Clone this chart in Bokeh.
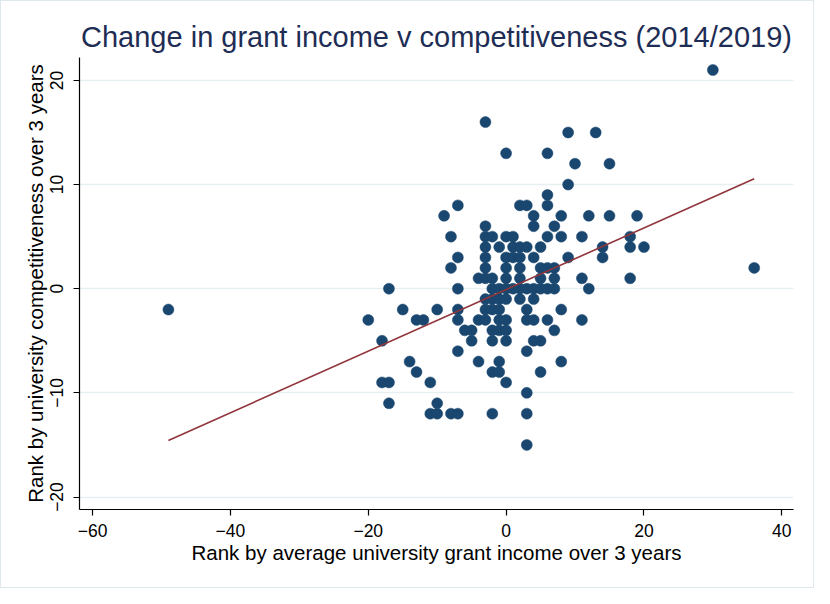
import numpy as np
from bokeh.plotting import figure
from bokeh.models import Range1d, FixedTicker, ColumnDataSource
from bokeh.embed import file_html
from bokeh.resources import INLINE

# ---- data (rank changes) ----
grant_rank = [
    30,
    -3,
    9, 13,
    0, 6,
    10, 15,
    9,
    6,
    -7, 2, 3, 6,
    -9, 4, 8, 12, 15, 19,
    -3, 4, 7,
    -8, -3, -2, 0, 1, 6, 8, 11, 18,
    -3, -1, 1, 2, 3, 5, 14, 18, 20,
    -7, -3, 0, 1, 2, 4, 9, 14,
    -8, -3, 0, 2, 5, 6, 7, 36,
    -4, -3, -2, 0, 2, 5, 7, 11, 18,
    -17, -7, -2, -1, 0, 1, 2, 3, 4, 5, 6, 7, 12,
    -3, -2, -1, 0, 2, 4,
    -49, -15, -10, -7, -3, -2, -1, 3, 8,
    -20, -13, -12, -7, -4, -3, -1, 0, 3, 4, 6, 11,
    -6, -5, -2, -1, 0, 7,
    -18, -5, -2, 0, 4, 5,
    -7, 3,
    -14, -4, -1, 8,
    -13, -2, -1, 5,
    -18, -17, -11, 0,
    3,
    -17, -10,
    -11, -10, -8, -7, -2, 3,
    3,
]
competitiveness_rank = (
    [21] * 1 + [16] * 1 + [15] * 2 + [13] * 2 + [12] * 2 + [10] * 1 + [9] * 1
    + [8] * 4 + [7] * 6 + [6] * 3 + [5] * 9 + [4] * 9 + [3] * 8 + [2] * 8
    + [1] * 9 + [0] * 13 + [-1] * 6 + [-2] * 9 + [-3] * 12 + [-4] * 6
    + [-5] * 6 + [-6] * 2 + [-7] * 4 + [-8] * 4 + [-9] * 4 + [-10] * 1
    + [-11] * 2 + [-12] * 6 + [-15] * 1
)
x_ticks = [-60, -40, -20, 0, 20, 40]
y_ticks = [-20, -10, 0, 10, 20]

title_text = "Change in grant income v competitiveness (2014/2019)"
x_label = "Rank by average university grant income over 3 years"
y_label = "Rank by university competitiveness over 3 years"

FONT = "Liberation Sans"
NAVY = "#1a476f"
MAROON = "#90353b"

# linear fit (like Stata's lfit)
xs = np.array(grant_rank, dtype=float)
ys = np.array(competitiveness_rank, dtype=float)
slope, intercept = np.polyfit(xs, ys, 1)
fit_x = [xs.min(), xs.max()]
fit_y = [intercept + slope * v for v in fit_x]

p = figure(
    width=814, height=588,
    output_backend="svg", toolbar_location=None,
    x_range=Range1d(-61.9, 41.7), y_range=Range1d(-21.2, 22.2),
    min_border_left=78, min_border_right=22, min_border_top=56, min_border_bottom=80,
)
p.styles = {"border": "1px solid #dfe8ec"}
p.background_fill_color = "white"
p.border_fill_color = "white"
p.outline_line_color = None

p.title.text = title_text
p.title.align = "center"
p.title.text_font = FONT
p.title.text_font_size = "29px"
p.title.text_font_style = "normal"
p.title.text_color = "#1e2d55"
p.title.offset = 0
p.title.standoff = 9

p.xgrid.visible = False
p.ygrid.grid_line_color = "#e8eff1"
p.ygrid.grid_line_width = 1.5

for ax in (p.xaxis[0], p.yaxis[0]):
    ax.axis_line_color = "black"
    ax.axis_line_width = 1.2
    ax.major_tick_line_color = "black"
    ax.major_tick_line_width = 1.2
    ax.major_tick_out = 6
    ax.major_tick_in = 0
    ax.minor_tick_line_color = None
    ax.major_label_text_font = FONT
    ax.major_label_text_font_size = "17.5px"
    ax.major_label_text_color = "black"
    ax.axis_label_text_font = FONT
    ax.axis_label_text_font_size = "20.5px"
    ax.axis_label_text_font_style = "normal"
    ax.axis_label_text_color = "black"

p.xaxis.ticker = FixedTicker(ticks=x_ticks, minor_ticks=[])
p.yaxis.ticker = FixedTicker(ticks=y_ticks, minor_ticks=[])
p.ygrid.ticker = FixedTicker(ticks=y_ticks, minor_ticks=[])
p.xaxis.axis_label = x_label
p.yaxis.axis_label = y_label
p.xaxis.major_label_standoff = 8
p.xaxis.axis_label_standoff = 1
p.yaxis.major_label_orientation = "vertical"
p.yaxis.major_label_standoff = 10
p.yaxis.axis_label_standoff = 1

src = ColumnDataSource(data=dict(x=grant_rank, y=competitiveness_rank))
p.scatter("x", "y", source=src, size=11, fill_color=NAVY, line_color=NAVY, line_width=0.5)
p.line(fit_x, fit_y, line_color=MAROON, line_width=1.6)

open("out.html", "w").write(file_html(p, INLINE))
